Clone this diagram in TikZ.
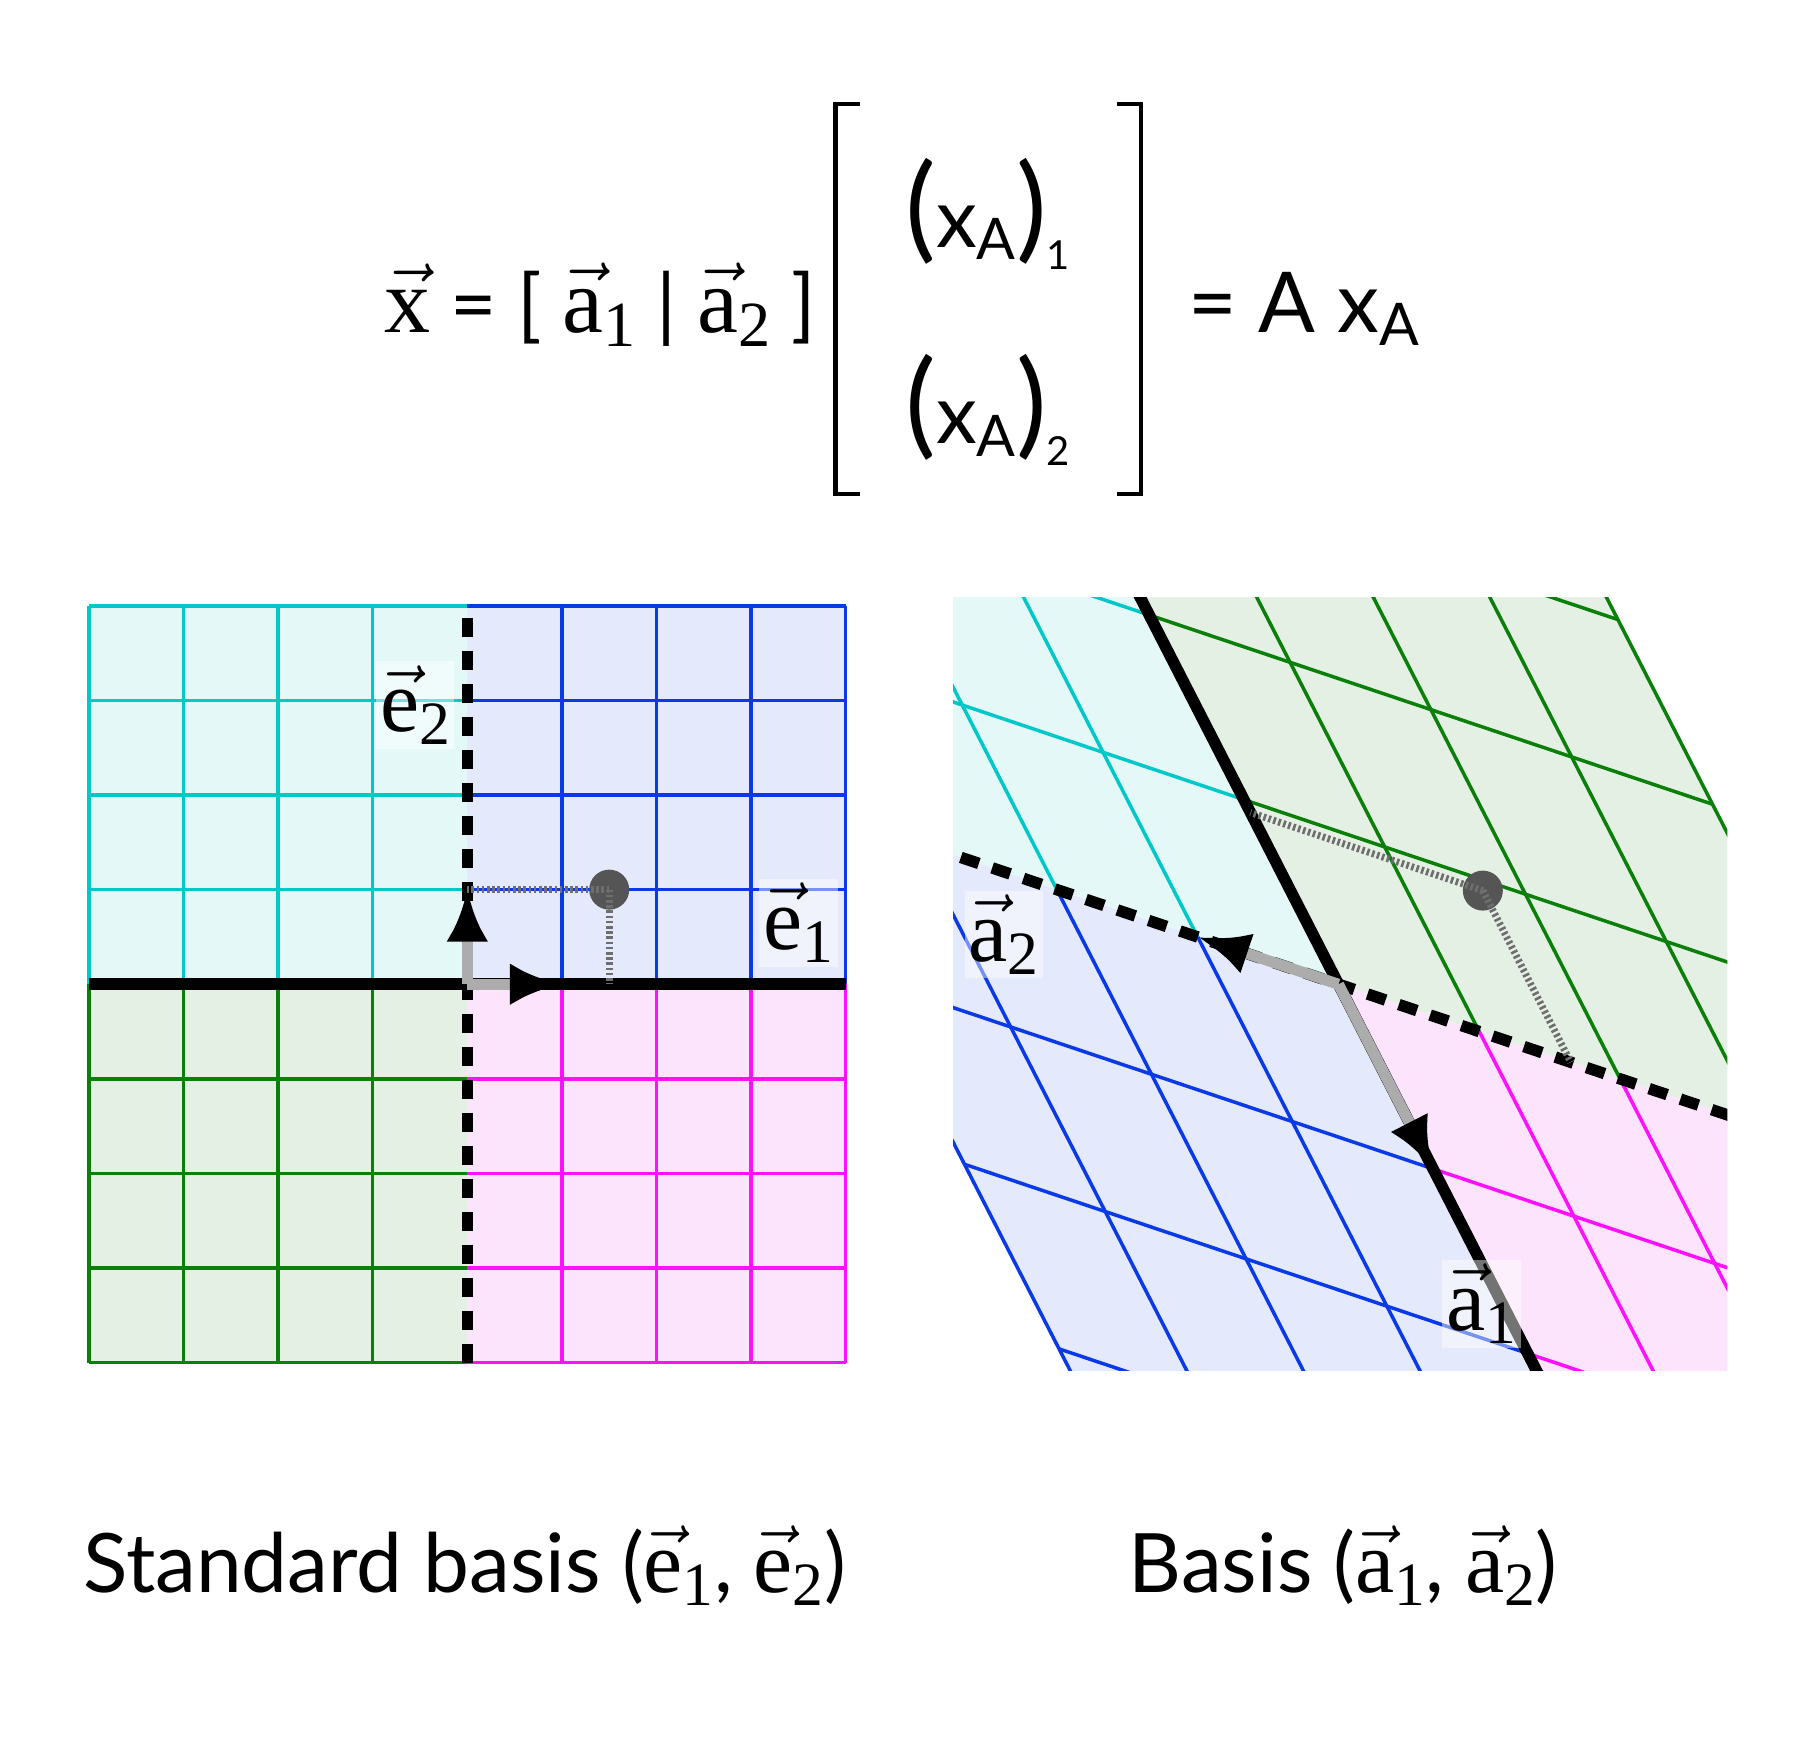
\documentclass[tikz,border=0pt]{standalone}
\usepackage{fix-cm}
\usepackage{amsmath}
\usepackage{fontspec}
\setmainfont{Lato}
\newfontfamily\serif{Liberation Serif}
\usetikzlibrary{arrows.meta}
\definecolor{cyL}{HTML}{00C8C8}\definecolor{cyF}{HTML}{E4F8F8}
\definecolor{blL}{HTML}{0a3ae8}\definecolor{blF}{HTML}{E4EAFB}
\definecolor{grL}{HTML}{0a800a}\definecolor{grF}{HTML}{E5F0E5}
\definecolor{mgL}{HTML}{FF10FF}\definecolor{mgF}{HTML}{FDE4FD}
\definecolor{dotc}{HTML}{555555}
\newcommand\Vc[2]{\ensuremath{\vec{\text{\serif #1}}_{\text{\serif #2}}}}
\newcommand\Vx{\ensuremath{\vec{\text{\serif x}}}}
\tikzset{
 gl/.style={line width=3.5pt},
 axis/.style={line width=11.5pt,black},
 dsh/.style={axis,dash pattern=on 19pt off 14pt},
 gvec/.style={line width=11pt,gray!65,-{Latex[length=52pt,width=42pt,color=black]}},
 dots/.style={line width=7pt,dotc!85,dash pattern=on 2.6pt off 2.6pt},
 pt/.style={circle,fill=dotc,minimum size=40pt,inner sep=0pt},
 lab/.style={font=\fontsize{88}{90}\selectfont,fill=white,fill opacity=0.45,text opacity=1,inner sep=4pt},
 txt/.style={font=\fontsize{82}{90}\selectfont,inner sep=0pt}
}
\newcommand\panelgrid{%
 \fill[cyF] (-4,0) -- (0,0) -- (0,4) -- (-4,4) -- cycle;
 \fill[blF] (0,0) -- (4,0) -- (4,4) -- (0,4) -- cycle;
 \fill[grF] (-4,-4) -- (0,-4) -- (0,0) -- (-4,0) -- cycle;
 \fill[mgF] (0,-4) -- (4,-4) -- (4,0) -- (0,0) -- cycle;
 \foreach \i in {1,...,4}{
  \draw[gl,cyL] (-\i,0)--(-\i,4); \draw[gl,cyL] (-4,\i)--(0,\i);
  \draw[gl,blL] (\i,0)--(\i,4); \draw[gl,blL] (0,\i)--(4,\i);
  \draw[gl,grL] (-\i,-4)--(-\i,0); \draw[gl,grL] (-4,-\i)--(0,-\i);
  \draw[gl,mgL] (\i,-4)--(\i,0); \draw[gl,mgL] (0,-\i)--(4,-\i);}
}
\begin{document}
\begin{tikzpicture}[x=1.1538pt,y=-1.1538pt]
\useasboundingbox (0,0) rectangle (1560,1517.5);
% equation
\node[txt,anchor=base west] (lhs) at (333,288) {\fontsize{92}{90}\selectfont\Vx\fontsize{80}{90}\selectfont{} = [ \fontsize{92}{90}\selectfont\Vc a1\fontsize{80}{90}\selectfont{} | \fontsize{92}{90}\selectfont\Vc a2\fontsize{80}{90}\selectfont{} ]};
\draw[line width=4.5pt] (745,90) -- (724,90) -- (724,428) -- (745,428);
\draw[line width=4.5pt] (968,90) -- (989,90) -- (989,428) -- (968,428);
\node[txt] (m1) at (856,185) {{\fontsize{115}{115}\selectfont(}x\textsubscript{A}{\fontsize{115}{115}\selectfont)}\raisebox{-22pt}{\fontsize{40}{40}\selectfont 1}};
\node[txt] (m2) at (856,355) {{\fontsize{115}{115}\selectfont(}x\textsubscript{A}{\fontsize{115}{115}\selectfont)}\raisebox{-22pt}{\fontsize{40}{40}\selectfont 2}};
\node[txt,anchor=base west] (rhs) at (1030,288) {\fontsize{84}{90}\selectfont = A x\textsubscript{A}};
% left panel
\begin{scope}[shift={(405,853)},x={(94.6pt,0pt)},y={(0pt,94.6pt)}]
 \panelgrid
 \draw[axis] (-4,0)--(4,0);
 \draw[dsh] (0,-4)--(0,4);
 \coordinate (O) at (0,0); \coordinate (E1) at (1,0); \coordinate (E2) at (0,1);
 \coordinate (Px) at (1.5,0); \coordinate (Py) at (0,1);
 \draw[gvec] (O) -- (E1); \draw[gvec] (O) -- (E2);
 \node[pt] (P) at (1.5,1) {};
 \draw[dots] (P.center) -- (Py); \draw[dots] (P.center) -- (Px);
 \node[lab] (le2) at (-0.55,2.95) {\Vc e2};
 \node[lab] (le1) at (3.5,0.65) {\Vc e1};
\end{scope}
% right panel
\begin{scope}
\clip (826,518) rectangle (1497,1188);
\begin{scope}[shift={(1160,853)},x={(94.6pt,-184.6pt)},y={(-140.8pt,47.3pt)}]
 \panelgrid
 \draw[axis] (-5,0)--(5,0);
 \draw[dsh] (0,-5)--(0,5);
 \coordinate (O2) at (0,0); \coordinate (A1) at (1,0); \coordinate (A2) at (0,1);
 \coordinate (Qx) at (-0.93,0); \coordinate (Qy) at (0,-1.65);
 \draw[gvec] (O2) -- (A1); \draw[gvec] (O2) -- (A2);
 \node[pt] (Q) at (-0.93,-1.65) {};
 \draw[dots] (Q.center) -- (Qx); \draw[dots] (Q.center) -- (Qy);
\end{scope}
\node[lab] (la2) at (870,810) {\Vc a2};
\node[lab] (la1) at (1284,1130) {\Vc a1};
\end{scope}
% captions
\node[txt,anchor=base west] (c1) at (72,1380) {Standard basis (\fontsize{88}{90}\selectfont\Vc e1\fontsize{82}{90}\selectfont, \fontsize{88}{90}\selectfont\Vc e2\fontsize{82}{90}\selectfont)};
\node[txt,anchor=base west] (c2) at (978,1380) {Basis (\fontsize{88}{90}\selectfont\Vc a1\fontsize{82}{90}\selectfont, \fontsize{88}{90}\selectfont\Vc a2\fontsize{82}{90}\selectfont)};
\end{tikzpicture}
\end{document}
